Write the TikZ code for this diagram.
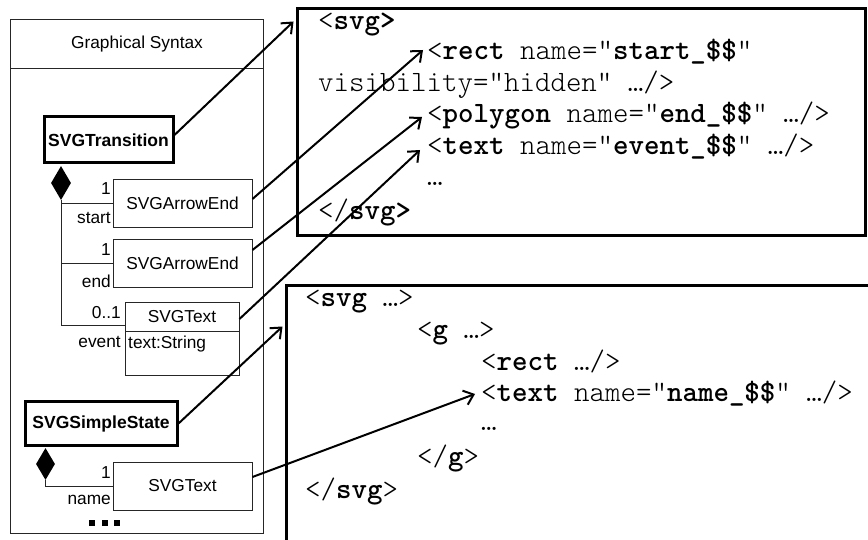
\documentclass[tikz,border=0pt]{standalone}
\usepackage{fontspec}
\setmainfont{Liberation Sans}
\usetikzlibrary{arrows.meta,shapes.geometric,calc}
\newcommand\kw[1]{{\fontseries{b}\selectfont #1}}
\begin{document}
\begin{tikzpicture}[x=1pt,y=-1pt,
  lbl/.style={font=\fontsize{17.3}{20}\selectfont, inner sep=0pt},
  cls/.style={draw=black!85, line width=0.9pt, inner sep=0pt, minimum width=139pt, minimum height=48pt, font=\fontsize{17.3}{20}\selectfont},
  keycls/.style={draw, line width=3pt, inner sep=0pt, font=\fontsize{17.5}{20}\selectfont\bfseries},
  codebox/.style={draw, line width=3pt, inner sep=0pt},
  code/.style={anchor=base west, inner sep=0pt, font=\fontsize{29.5}{32}\ttfamily\fontseries{l}\selectfont},
  comp/.style={diamond, fill, inner sep=0pt},
  link/.style={draw=black!85, line width=0.9pt},
  ref/.style={line width=2pt, -{Straight Barb[length=9pt,width=15pt]}},
  dot/.style={fill, inner sep=0pt, minimum size=6pt}
]
\clip (0,0) rectangle (868,540);
\useasboundingbox (0,0) rectangle (868,540);
\fill[white] (0,0) rectangle (868,540);

% left frame
\node[draw=black!85, line width=0.9pt, minimum width=253pt, minimum height=514pt, inner sep=0pt] (frame) at (136.5,276) {};
\draw[link] (10,68) -- (263,68);
\node[lbl] (title) at (137,44) {Graphical Syntax};

% classes
\node[keycls, minimum width=129pt, minimum height=46pt] (trans) at (108.5,140) {SVGTransition};
\node[cls] (ae1) at (182.5,203) {SVGArrowEnd};
\node[cls] (ae2) at (182.5,263) {SVGArrowEnd};
\node[cls, minimum width=114pt, minimum height=29pt] (txt) at (182,316.5) {SVGText};
\node[cls, minimum width=114pt, minimum height=44pt, anchor=north] (txtattr) at (txt.south) {};
\node[lbl, anchor=west] (attr) at (128,344) {text:String};
\node[keycls, minimum width=152pt, minimum height=44pt] (state) at (101,423.5) {SVGSimpleState};
\node[cls] (txt2) at (182.5,486) {SVGText};

% compositions
\node[comp, minimum width=20pt, minimum height=34pt] (d1) at (61,183) {};
\draw[link] (d1.south) |- (ae1.west);
\draw[link] (d1.south) |- (ae2.west);
\draw[link] (d1.south) |- ([yshift=-8.5pt]txt.west);
\node[comp, minimum width=19pt, minimum height=32pt] (d2) at (45.5,464) {};
\draw[link] (d2.south) |- (txt2.west);

% role labels
\node[lbl, anchor=east] (m1) at (111,189) {1};
\node[lbl, anchor=east] (r1) at (111,218) {start};
\node[lbl, anchor=east] (m2) at (111,250) {1};
\node[lbl, anchor=east] (r2) at (111,281) {end};
\node[lbl, anchor=east] (m3) at (121,313) {0..1};
\node[lbl, anchor=east] (r3) at (121,342) {event};
\node[lbl, anchor=east] (m4) at (111,473) {1};
\node[lbl, anchor=east] (r4) at (111,500) {name};

\node[dot] (sq1) at (92,523) {};
\node[dot] (sq2) at (104.5,523) {};
\node[dot] (sq3) at (117,523) {};

% code boxes
\node[codebox, minimum width=568pt, minimum height=227pt] (topbox) at (581,122.5) {};
\node[codebox, minimum width=604pt, minimum height=274pt] (botbox) at (588,423) {};

\node[code] (c1) at (318,30) {<\kw{svg>}};
\node[code] (c2) at (427,60) {<\kw{rect} name="\kw{start\_\$\$}"};
\node[code] (c3) at (318,92) {visibility="hidden" …/>};
\node[code] (c4) at (427,123) {<\kw{polygon} name="\kw{end\_\$\$}" …/>};
\node[code] (c5) at (427,155) {<\kw{text} name="\kw{event\_\$\$}" …/>};
\node[code] (c6) at (427,186) {…};
\node[code] (c7) at (318,220) {</\kw{svg>}};

\node[code] (b1) at (305,306) {<\kw{svg} …>};
\node[code] (b2) at (417,338) {<\kw{g} …>};
\node[code] (b3) at (481,370) {<\kw{rect} …/>};
\node[code] (b4) at (481,401) {<\kw{text} name="\kw{name\_\$\$}" …/>};
\node[code] (b5) at (481,430) {…};
\node[code] (b6) at (417,465) {</\kw{g}>};
\node[code] (b7) at (305,498) {</\kw{svg}>};

% arrow targets
\coordinate (t1) at ($(topbox.north west)+(-2,14)$);
\coordinate (t2) at ($(c2.base west)+(-4,-10)$);
\coordinate (t3) at ($(c4.base west)+(-5,-6)$);
\coordinate (t4) at ($(c5.base west)+(-7,-5)$);
\coordinate (t5) at ($(botbox.north west)+(-2,42)$);
\coordinate (t6) at ($(b4.base west)+(-6,-7)$);

% references
\draw[ref] ([yshift=5pt]trans.east) -- (t1);
\draw[ref] ([yshift=4pt]ae1.east) -- (t2);
\draw[ref] ([yshift=13pt]ae2.east) -- (t3);
\draw[ref] ([yshift=-2.5pt]txt.east) -- (t4);
\draw[ref] (state.east) -- (t5);
\draw[ref] ([yshift=9pt]txt2.east) -- (t6);
\end{tikzpicture}
\end{document}
